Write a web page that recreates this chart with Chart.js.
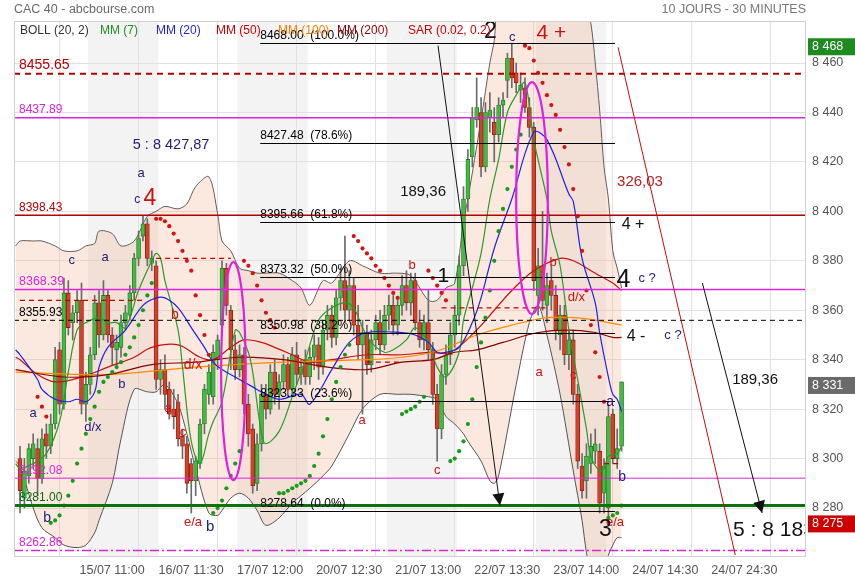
<!DOCTYPE html>
<html><head><meta charset="utf-8">
<script src="https://cdn.jsdelivr.net/npm/chart.js@4.4.1/dist/chart.umd.min.js"></script>
<style>html,body{margin:0;padding:0;background:#fff}canvas{display:block}</style>
</head><body>
<canvas id="c" width="855" height="580"></canvas>
<script>
const FONT = '"Liberation Sans", Arial, sans-serif';

// ---------- price data (30-min bars, 14/07 -> 24/07) ----------
const open = [8300,8284,8293,8300,8304,8292,8310,8305,8314,8344,8322,8367,8355,8359,
8364,8322,8330,8342,8363,8350,8366,8350,8344,8345,8355,8358,8367,8381,8390,8395,8379,
8378,8332,8336,8328,8320,8323,8309,8306,8298,8291,8298,8314,8326,8325,8340,8354,8377,
8360,8344,8336,8342,8322,8312,8290,8306,8326,8320,8335,8326,8331,8338,8328,8342,8334,
8340,8333,8341,8346,8337,8352,8358,8349,8365,8372,8360,8370,8354,8346,8351,8338,8348,
8355,8346,8358,8362,8354,8362,8370,8363,8372,8355,8348,8355,8344,8326,8312,8334,8342,
8350,8358,8378,8405,8422,8437,8440,8418,8438,8436,8431,8443,8453,8462,8456,8449,8450,
8442,8434,8366,8378,8362,8372,8366,8350,8358,8342,8348,8326,8297,8291,8298,8303,8303,
8286,8280,8318,8300,8305];
const high = [8305,8300,8306,8310,8308,8312,8314,8318,8345,8347,8373,8372,8362,8368,
8371,8335,8345,8366,8368,8372,8368,8353,8350,8358,8362,8370,8383,8392,8398,8397,8384,
8380,8340,8342,8331,8328,8326,8312,8309,8300,8301,8316,8330,8338,8346,8350,8380,8379,
8362,8350,8346,8345,8326,8314,8310,8330,8330,8338,8340,8334,8342,8341,8345,8347,8340,
8344,8345,8350,8349,8355,8362,8362,8368,8377,8390,8376,8373,8362,8356,8354,8352,8358,
8360,8362,8366,8366,8364,8374,8376,8375,8375,8360,8358,8368,8347,8330,8338,8346,8355,
8362,8382,8410,8425,8442,8454,8446,8444,8448,8442,8446,8448,8464,8468,8460,8456,8454,
8446,8436,8385,8400,8375,8378,8370,8362,8362,8352,8352,8330,8302,8306,8310,8312,8306,
8300,8322,8320,8312,8331];
const low = [8278,8280,8290,8296,8285,8290,8300,8302,8312,8318,8320,8350,8348,8355,
8318,8315,8326,8340,8345,8348,8347,8338,8338,8341,8352,8356,8364,8378,8388,8378,8376,
8328,8326,8320,8316,8312,8305,8300,8286,8278,8285,8296,8310,8322,8322,8336,8352,8358,
8336,8332,8333,8318,8305,8286,8287,8303,8316,8318,8322,8320,8328,8325,8326,8330,8330,
8330,8330,8336,8332,8334,8348,8345,8346,8360,8355,8356,8350,8340,8318,8334,8335,8344,
8342,8344,8352,8350,8350,8358,8360,8358,8352,8345,8344,8340,8322,8299,8308,8330,8338,
8345,8354,8374,8400,8418,8434,8414,8416,8432,8420,8428,8438,8446,8450,8448,8444,8440,
8430,8368,8358,8360,8355,8360,8348,8344,8338,8336,8322,8296,8284,8284,8294,8298,8278,
8278,8275,8298,8296,8303];
const close = [8287,8295,8304,8306,8292,8308,8305,8314,8340,8322,8367,8353,8359,8364,
8322,8330,8342,8363,8350,8366,8350,8345,8347,8355,8359,8367,8381,8389,8395,8381,8381,
8332,8336,8326,8318,8317,8308,8305,8290,8291,8299,8314,8328,8335,8343,8348,8377,8362,
8344,8336,8342,8322,8310,8289,8306,8326,8320,8335,8326,8331,8338,8328,8342,8334,8337,
8333,8341,8346,8337,8352,8358,8349,8365,8372,8360,8370,8354,8346,8351,8338,8348,8355,
8346,8358,8362,8354,8362,8370,8363,8372,8355,8348,8355,8344,8326,8312,8334,8342,8350,
8358,8378,8405,8421,8438,8442,8418,8440,8441,8431,8443,8445,8462,8454,8452,8451,8442,
8434,8372,8378,8364,8370,8366,8352,8358,8342,8348,8326,8299,8287,8301,8305,8306,8282,
8297,8317,8300,8304,8331];

// Parabolic SAR (one value per bar, null = not shown)
const sarVal = [null,null,null,null,8325,8321,8317,
8274,8275,8277,8281,8285,8291,8298,8304,8310,8316,8321,8327,
8331,8333,8335,8337,8339,8342,8345,8349,8354,8360,8366,8371,
8397,8397,8396,8394,8391,8388,8384,8380,8376,8366,8358,8350,8342,
8278,8280,8283,8288,8293,8298,8303,
8380,8378,8375,8370,8364,8359,8356,8353,
8286,8286,8287,8288,8289,8290,8291,8293,8297,8302,8309,8316,8324,8331,8337,8342,8346,
8390,8388,8385,8383,8381,8378,8376,8373,8370,8367,8365,
8318,8319,8320,8321,8323,8325,
8376,8373,8370,8367,8364,
8299,8300,8303,8307,8314,8324,8337,8347,8357,8368,8380,8392,8401,8409,8418,8425,8431,
8467,8466,8461,8456,8452,8447,8443,8439,8433,8426,8419,8409,8398,8384,8368,8354,8343,8333,8323,
8276,8277,8278,8281];

// Bollinger (20,2) read at bar indices
const bollX  = [-1,0,3,5,8,10,13,15,17,18,21,23,26,29,31,33,36,38,40,43,45,46,48,50,52,54,56,59,62,64,66,69,71,75,78,82,86,89,93,95,97,99,101,102,105,107,108,109,113,116,118,120,123,126,128,129,130,131,132,133,134,135,136,137];
const bollUp = [8386,8388,8388,8388,8386,8384,8384,8386,8387,8392,8391,8386,8388,8398,8400,8402,8401,8403,8410,8414,8399,8388,8384,8377,8376,8375,8375,8375,8372,8369,8362,8372,8371,8380,8378,8375,8375,8374,8364,8364,8369,8371,8396,8405,8437,8460,8469,8485,8495,8500,8502,8502,8500,8492,8486,8481,8476,8460,8441,8418,8405,8384,8377,8369];
const bollLo = [8299,8297,8280,8272,8268,8265,8264,8265,8270,8275,8290,8308,8328,8327,8327,8330,8322,8310,8296,8278,8277,8279,8284,8286,8284,8279,8273,8276,8282,8285,8288,8293,8297,8310,8320,8326,8326,8326,8325,8324,8317,8314,8310,8307,8299,8291,8290,8293,8330,8355,8362,8350,8326,8295,8275,8262,8255,8252,8252,8255,8261,8265,8268,8268];

// Moving averages read at bar indices [index, value]
const mm7 = [[-1,8298],[0,8296],[3,8298],[6,8302],[9,8315],[11,8335],[13,8352],[15,8355],[18,8357],[20,8355],[22,8355],[24,8353],[27,8368],[30,8380],[31,8383],[32,8381],[33,8372],[36,8352],[37,8337],[39,8307],[41,8298],[43,8310],[44,8315],[46,8323],[49,8352],[50,8351],[52,8343],[53,8335],[55,8310],[56,8306],[59,8311],[62,8325],[65,8340],[68,8356],[71,8361],[74,8363],[76,8361],[78,8353],[80,8347],[83,8343],[85,8344],[88,8348],[90,8353],[93,8347],[95,8337],[97,8333],[100,8343],[101,8356],[103,8369],[105,8383],[107,8405],[109,8421],[111,8440],[113,8447],[115,8452],[117,8429],[120,8405],[121,8392],[123,8378],[125,8352],[127,8332],[129,8312],[130,8301],[132,8295],[133,8296],[134,8301],[136,8302],[137,8305]];
const mm20 = [[-1,8344],[0,8342],[4,8332],[5,8328],[8,8324],[11,8323],[13,8324],[15,8323],[17,8327],[18,8337],[20,8345],[24,8352],[28,8362],[31,8365],[33,8365],[36,8361],[39,8353],[42,8345],[44,8339],[46,8336],[49,8333],[50,8332],[53,8329],[55,8327],[59,8324],[64,8326],[66,8322],[71,8336],[75,8347],[79,8351],[87,8351],[90,8350],[93,8347],[95,8343],[97,8343],[100,8345],[103,8355],[105,8365],[108,8385],[112,8405],[117,8432],[120,8429],[125,8407],[126,8404],[128,8381],[131,8363],[132,8351],[134,8333],[135,8326],[136,8324],[137,8319]];
const mm50 = [[-1,8341],[0,8340],[4,8334],[8,8331],[14,8333],[20,8337],[26,8341],[30,8345],[36,8346],[41,8341],[44,8340],[48,8345],[51,8348],[55,8347],[58,8345],[62,8342],[66,8339],[71,8340],[79,8342],[87,8342],[93,8343],[98,8343],[104,8352],[108,8360],[112,8368],[117,8376],[123,8381],[126,8380],[131,8375],[135,8371],[137,8368]];
const mm100 = [[-1,8335],[20,8334],[40,8337],[60,8339],[79,8340],[87,8341],[94,8343],[100,8347],[104,8350],[112,8354],[120,8357],[126,8357],[131,8356],[137,8354]];
const mm200 = [[-1,8336],[10,8333],[20,8334],[30,8338],[40,8339],[50,8341],[60,8340],[70,8337],[79,8336],[87,8339],[94,8340],[99,8343],[104,8344],[110,8347],[118,8351],[125,8352],[131,8351],[135,8349],[137,8349]];

// Axis ticks
const tickIdx = [18,36,54,72,90,108,126,144,162];
const tickLabels = ['15/07 11:00','16/07 11:30','17/07 12:00','20/07 12:30','21/07 13:00','22/07 13:30','23/07 14:00','24/07 14:30','24/07 24:30'];
const yTicks = [8280,8300,8320,8340,8360,8380,8400,8420,8440,8460];
const dayStarts = [14,31,48,65,82,99,116,133];

// Horizontal levels
const levels = [8455.65, 8437.89, 8398.43, 8368.39, 8355.93, 8292.08, 8281.00, 8262.86];
const fibValues = [8468.00, 8427.48, 8395.66, 8373.32, 8350.98, 8323.33, 8278.64];
const fibPct = ['100.0%','78.6%','61.8%','50.0%','38.2%','23.6%','0.0%'];
const dashSegs = [[0,28,8364],[31,48,8381],[79,87,8339],[96,120,8361],[133,137,8298]];
const diagLines = [[95.2,8467,109.3,8281,1],[155.4,8371,169.0,8278,1],[136.2,8466.4,162.9,8261,0]];
const ellipses = [[48.6,8335.4,2.8,44.1],[116.6,8405.4,3.6,46.9]];
const priceBoxes = [[8468,'#1f8a1f'],[8331,'#6a6a6a'],[8275,'#cc0000']];

const NAVY='#1c1c7c', RED='#cc1111', BLACK='#111111', DRED='#b22222';
const annots = [
 ['c',11.8,8380.3,NAVY,13],['a',19.4,8381.5,NAVY,13],['a',27.6,8415.5,NAVY,13],['c',26.7,8404.6,NAVY,12],
 ['4',29.6,8405,RED,23],['5 : 8 427,87',34.4,8426.8,NAVY,14.5],['a',3.0,8318.4,NAVY,13],['b',6.2,8276,NAVY,14],
 ['d/x',16.6,8312.8,NAVY,13],['b',23.2,8330.1,NAVY,13],['b',35.3,8358,RED,14],['d/x',39.4,8337.8,RED,14],
 ['a',33.7,8320.4,RED,13],['c',37.1,8310.7,RED,13],['e/a',39.4,8274,RED,13],['b',43.3,8272.3,NAVY,15],
 ['b',89.3,8378.3,RED,13],['a',77.9,8315.6,RED,13],['c',95,8295.4,RED,13],['1',96.4,8373.8,BLACK,21],
 ['189,36',91.8,8407.8,BLACK,15],['2',107.1,8472.5,BLACK,23],['c',112.1,8470.5,NAVY,13],['4 +',121.0,8472,RED,21],
 ['b',121.4,8379.5,RED,13],['a',118.2,8335,RED,13],['d/x',126.7,8365.3,RED,13],['c',126,8333.8,RED,13],
 ['a',134.4,8322.9,NAVY,14],['b',137.1,8292.5,NAVY,14],['e/a',135.5,8274,RED,13],['3',133.3,8271.1,BLACK,23],
 ['4 +',139.6,8394.5,BLACK,16],['4',137.4,8372.2,BLACK,25],['c ?',142.8,8373,NAVY,13],['4 -',140.3,8349.2,BLACK,16],
 ['c ?',148.7,8350,NAVY,13],['326,03',141.2,8411.9,DRED,15],['189,36',167.4,8331.8,BLACK,15]
];
const cutText = ['5 : 8 183',162.4,8271,BLACK,21];

// ---------- styles ----------
const levelStyle = [
 {c:'#b00000',w:2,d:[6,5],lc:'#b00000',fs:14},
 {c:'#dd22dd',w:1.5,d:[],lc:'#dd22dd',fs:12},
 {c:'#b00000',w:1.5,d:[],lc:'#b00000',fs:12},
 {c:'#dd22dd',w:1.5,d:[],lc:'#dd22dd',fs:12.5},
 {c:'#000000',w:1,d:[5,4],lc:'#000',fs:12},
 {c:'#dd22dd',w:1,d:[],lc:'#dd22dd',fs:12},
 {c:'#0b730b',w:3,d:[],lc:'#0b6a0b',fs:12},
 {c:'#dd22dd',w:1.5,d:[9,3,2,3],lc:'#dd22dd',fs:12}
];
const legendItems = [['BOLL (20, 2)','#333',20],['MM (7)','#1f8f1f',100],['MM (20)','#1f1fe0',156],['MM (50)','#cc0000',216],['MM (100)','#ff8000',278],['MM (200)','#990000',337],['SAR (0.02, 0.2)','#cc0000',408]];

Chart.defaults.font.family = FONT;

const idx = close.map((_, i) => i);
const isUp = i => close[i] >= open[i];
const sarPts = [], sarCol = [];
sarVal.forEach((v, i) => { if (v != null) { sarPts.push({x:i, y:v}); sarCol.push(v > close[i] ? '#d01515' : '#1a9a1a'); } });
const pts = a => a.map(([x,y]) => ({x, y}));
const fmt = v => String(v).replace(/\B(?=(\d{3})+(?!\d))/g, ' ');

const bgPlugin = {
  id: 'bg',
  beforeDraw(c) {
    const {ctx, chartArea: a} = c, xs = c.scales.x;
    ctx.save();
    ctx.fillStyle = '#fff'; ctx.fillRect(0, 0, c.width, c.height);
    ctx.fillStyle = '#f3f3f3';
    dayStarts.forEach((s, k) => {
      if (k % 2 === 0) {
        const x1 = Math.max(a.left, xs.getPixelForValue(s + 1.5)), x2 = Math.min(a.right, xs.getPixelForValue(s + 17.5));
        ctx.fillRect(x1, a.top, x2 - x1, a.bottom - a.top);
      }
    });
    ctx.restore();
  }
};

function seg(ctx, x1, y1, x2, y2) { ctx.beginPath(); ctx.moveTo(x1, y1); ctx.lineTo(x2, y2); ctx.stroke(); }
function txt(ctx, s, x, y, color, size, align, base) {
  ctx.font = size + 'px ' + FONT; ctx.fillStyle = color; ctx.textAlign = align || 'center';
  ctx.textBaseline = base || 'middle'; ctx.fillText(s, x, y);
}

const overlay = {
  id: 'overlay',
  afterDatasetsDraw(c) {
    const {ctx, chartArea: a} = c, xs = c.scales.x, ys = c.scales.y;
    const px = i => xs.getPixelForValue(i), py = v => ys.getPixelForValue(v);
    ctx.save();
    ctx.beginPath(); ctx.rect(a.left, a.top, a.right - a.left, a.bottom - a.top); ctx.clip();
    // short red dashed segments
    ctx.strokeStyle = '#c00000'; ctx.lineWidth = 1.2; ctx.setLineDash([5, 4]);
    dashSegs.forEach(([i1, i2, v]) => seg(ctx, px(i1), py(v), px(i2), py(v)));
    // full-width levels
    levels.forEach((v, k) => {
      const s = levelStyle[k]; ctx.strokeStyle = s.c; ctx.lineWidth = s.w; ctx.setLineDash(s.d);
      seg(ctx, a.left, py(v), a.right, py(v));
    });
    ctx.setLineDash([]);
    // fibonacci
    ctx.strokeStyle = '#000'; ctx.lineWidth = 1;
    fibValues.forEach((v, k) => {
      const y = Math.round(py(v)) + 0.5;
      seg(ctx, px(54.7), y, px(135.5), y);
      txt(ctx, v.toFixed(2) + '  (' + fibPct[k] + ')', px(54.7), y - 5, '#000', 12, 'left', 'alphabetic');
    });
    // level labels
    levels.forEach((v, k) => {
      const s = levelStyle[k];
      txt(ctx, v.toFixed(2), a.left + 5, py(v) - 4.5, s.lc, s.fs, 'left', 'alphabetic');
    });
    // diagonal lines
    diagLines.forEach(([i1, v1, i2, v2, arrow]) => {
      const x1 = px(i1), y1 = py(v1), x2 = px(i2), y2 = py(v2);
      ctx.strokeStyle = arrow ? '#111' : '#c01010'; ctx.lineWidth = 1;
      seg(ctx, x1, y1, x2, y2);
      if (arrow) {
        const ang = Math.atan2(y2 - y1, x2 - x1), L = 12, W = 6;
        ctx.fillStyle = '#111'; ctx.beginPath(); ctx.moveTo(x2, y2);
        ctx.lineTo(x2 - L * Math.cos(ang) + W * Math.sin(ang), y2 - L * Math.sin(ang) - W * Math.cos(ang));
        ctx.lineTo(x2 - L * Math.cos(ang) - W * Math.sin(ang), y2 - L * Math.sin(ang) + W * Math.cos(ang));
        ctx.closePath(); ctx.fill();
      }
    });
    // ellipses
    ctx.strokeStyle = '#e020e0'; ctx.lineWidth = 2.2;
    ellipses.forEach(([ci, cv, rx, ry]) => {
      ctx.beginPath();
      ctx.ellipse(px(ci), py(cv), Math.abs(px(ci + rx) - px(ci)), Math.abs(py(cv + ry) - py(cv)), 0, 0, Math.PI * 2);
      ctx.stroke();
    });
    // annotations
    annots.forEach(([s, i, v, col, fs]) => txt(ctx, s, px(i), py(v), col, fs));
    txt(ctx, cutText[0], px(cutText[1]), py(cutText[2]), cutText[3], cutText[4], 'left');
    ctx.restore();
  },
  afterDraw(c) {
    const {ctx, chartArea: a} = c, ys = c.scales.y;
    ctx.save();
    // frame
    ctx.strokeStyle = '#cfcfcf'; ctx.lineWidth = 1;
    ctx.strokeRect(a.left + 0.5, a.top + 0.5, a.right - a.left - 1, a.bottom - a.top);
    // legend
    legendItems.forEach(([s, col, x]) => txt(ctx, s, x, 31, col, 12, 'left'));
    // header
    txt(ctx, 'CAC 40 - abcbourse.com', 14, 10, '#6a6a6a', 12.5, 'left');
    txt(ctx, '10 JOURS - 30 MINUTES', a.right, 10, '#777', 12.5, 'right');
    // price boxes on axis
    priceBoxes.forEach(([v, col]) => {
      const y = ys.getPixelForValue(v) + 3.5;
      ctx.fillStyle = col; ctx.fillRect(a.right + 2, y - 8.5, c.width - a.right - 2, 17);
      txt(ctx, fmt(v), a.right + 6, y, '#fff', 12.5, 'left');
    });
    ctx.restore();
  }
};

new Chart(document.getElementById('c'), {
  type: 'bar',
  data: {
    datasets: [
      {type:'line', data: bollX.map((x,k)=>({x, y: bollUp[k]})), borderColor:'#555', borderWidth:1, pointRadius:0, tension:0.3, fill:false, order:20},
      {type:'line', data: bollX.map((x,k)=>({x, y: bollLo[k]})), borderColor:'#555', borderWidth:1, pointRadius:0, tension:0.3, fill:'-1', backgroundColor:'rgba(240,165,125,0.24)', order:19},
      {type:'line', data: pts(mm200), borderColor:'#8b0000', borderWidth:1.2, pointRadius:0, tension:0.35, order:3},
      {type:'line', data: pts(mm100), borderColor:'#ff8a00', borderWidth:1.2, pointRadius:0, tension:0.35, order:3},
      {type:'line', data: pts(mm50), borderColor:'#c81010', borderWidth:1.2, pointRadius:0, tension:0.35, order:3},
      {type:'line', data: pts(mm20), borderColor:'#1f1fe6', borderWidth:1.2, pointRadius:0, tension:0.35, order:2},
      {type:'line', data: pts(mm7), borderColor:'#2a9a2a', borderWidth:1.2, pointRadius:0, tension:0.35, order:2},
      {type:'bar', data: idx.map(i=>({x:i, y:[low[i], high[i]]})), backgroundColor:'#6a6a6a', barThickness:1, grouped:false, order:6},
      {type:'bar', data: idx.map(i=>({x:i, y:[open[i], close[i]]})), backgroundColor: idx.map(i=> isUp(i) ? '#45b845' : '#d3402c'),
        borderColor: idx.map(i=> isUp(i) ? '#237a23' : '#8a2014'), borderWidth:0.8, borderSkipped:false, barThickness:4, grouped:false, order:5},
      {type:'scatter', data: sarPts, pointRadius:2.1, pointBackgroundColor: sarCol, pointBorderWidth:0, showLine:false, order:1}
    ]
  },
  options: {
    responsive: false, animation: false,
    layout: {padding: {left: 14, top: 21, right: 0, bottom: 0}},
    plugins: {legend: {display: false}, tooltip: {enabled: false}},
    scales: {
      x: {type:'linear', min:-1.37, max:179, offset:false,
        afterBuildTicks: ax => { ax.ticks = tickIdx.map(v => ({value: v})); },
        afterFit: ax => { ax.height = 24; },
        grid: {color:'#e2e2e2', drawTicks:false}, border: {display:false},
        ticks: {autoSkip:false, maxRotation:0, padding:7, labelOffset:13, color:'#555', font:{size:12.5},
          callback: v => { const k = tickIdx.indexOf(v); return k >= 0 ? tickLabels[k] : ''; }}},
      y: {type:'linear', position:'right', min:8260.6, max:8477,
        afterBuildTicks: ax => { ax.ticks = yTicks.map(v => ({value: v})); },
        afterFit: ax => { ax.width = 49; },
        grid: {color:'#e2e2e2', drawTicks:false}, border: {display:false},
        ticks: {padding:6, color:'#555', font:{size:12.5}, callback: v => fmt(v)}}
    }
  },
  plugins: [bgPlugin, overlay]
});
</script>
</body></html>
